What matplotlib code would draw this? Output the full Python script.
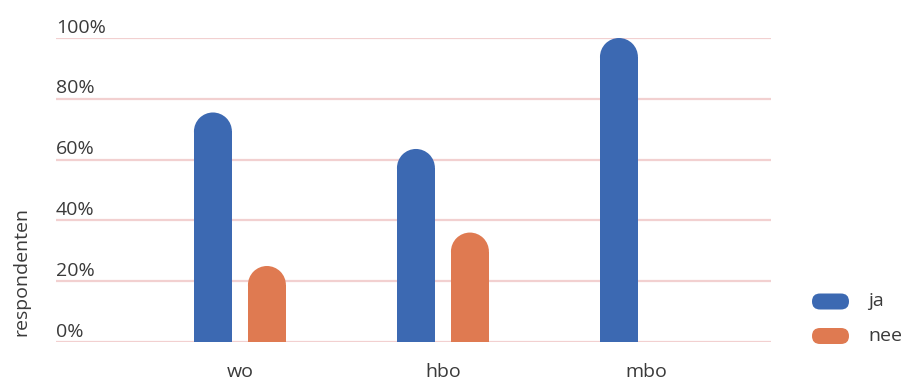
import matplotlib
matplotlib.use("Agg")
import matplotlib.pyplot as plt
from matplotlib.patches import Ellipse, FancyBboxPatch
import matplotlib.transforms as mtransforms

plt.rcParams['font.family'] = ['Open Sans', 'DejaVu Sans']

categories = ["wo", "hbo", "mbo"]
series_names = ["ja", "nee"]
ja_values = [75.5, 63.5, 100.0]
nee_values = [25.0, 36.0, 0.0]
y_ticks = [0, 20, 40, 60, 80, 100]
y_tick_labels = ["0%", "20%", "40%", "60%", "80%", "100%"]
y_label = "respondenten"

colors = ["#3c69b2", "#df7a51"]
grid_color = "#f2d0d0"
text_color = "#3a3a3a"
fs = 14
fw = 'normal'

W, H = 909, 379
fig = plt.figure(figsize=(W / 100, H / 100), dpi=100)
ax = fig.add_axes([56 / W, 37 / H, (771 - 56) / W, (342 - 38) / H])
ax.set_xlim(-0.906, 2.616)
ax.set_ylim(0, 100)

for s in ax.spines.values():
    s.set_visible(False)
ax.set_yticks([])
ax.set_xticks(range(len(categories)))
ax.set_xticklabels(categories, fontsize=fs, color=text_color, fontweight=fw)
ax.tick_params(axis='x', length=0, pad=15)

for v in y_ticks:
    ax.axhline(v, color=grid_color, lw=1.6, zorder=1)
trans = mtransforms.blended_transform_factory(ax.transAxes, ax.transData)
for v, lab in zip(y_ticks, y_tick_labels):
    ax.text(0, v + 1.8, lab, transform=trans, ha='left', va='baseline',
            fontsize=fs, color=text_color, fontweight=fw)

fig.text(21.5 / W, 1 - 272 / H, y_label, rotation=90, ha='center', va='center',
         fontsize=fs, color=text_color, fontweight=fw)

bar_w = 0.187
offset = 0.133
# pixel scales to keep the rounded caps circular
x_px = ax.bbox.width / (ax.get_xlim()[1] - ax.get_xlim()[0])
y_px = ax.bbox.height / (ax.get_ylim()[1] - ax.get_ylim()[0])
r_data = (bar_w * x_px / 2) / y_px

for si, (vals, col) in enumerate(zip([ja_values, nee_values], colors)):
    sign = -1 if si == 0 else 1
    for ci, v in enumerate(vals):
        if v <= 0:
            continue
        xc = ci + sign * offset
        body = max(v - r_data, 0)
        ax.bar(xc, body, width=bar_w, color=col, zorder=3, linewidth=0)
        ax.add_patch(Ellipse((xc, body), bar_w, 2 * r_data, facecolor=col,
                             edgecolor='none', zorder=3, clip_on=False))

# legend with pill-shaped keys
for i, (name, col) in enumerate(zip(series_names, colors)):
    yc = 301.5 + i * 34.5
    fig.patches.append(FancyBboxPatch((812 / W, 1 - (yc + 8) / H), 37 / W, 16 / H,
                                      boxstyle="round,pad=0,rounding_size=0.0088",
                                      transform=fig.transFigure, facecolor=col,
                                      edgecolor='none', mutation_aspect=W / H))
    fig.text(868 / W, 1 - yc / H, name, ha='left', va='center', fontsize=fs,
             color=text_color, fontweight=fw)

fig.savefig("out.png", dpi=100)
